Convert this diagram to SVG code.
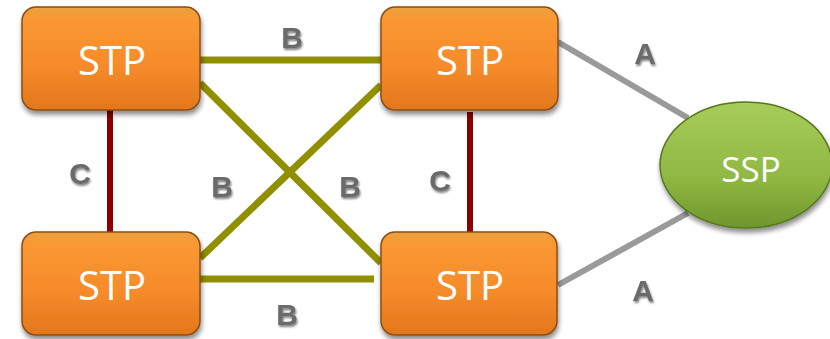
<svg xmlns="http://www.w3.org/2000/svg" width="830" height="339" viewBox="0 0 830 339">
<defs>
<linearGradient id="og" x1="0" y1="0" x2="0" y2="1">
<stop offset="0" stop-color="#e9a23f"/>
<stop offset="0.12" stop-color="#fa9832"/>
<stop offset="0.6" stop-color="#f58a2a"/>
<stop offset="1" stop-color="#e2771c"/>
</linearGradient>
<linearGradient id="gg" x1="0" y1="0" x2="0" y2="1">
<stop offset="0" stop-color="#a8cc5a"/>
<stop offset="0.6" stop-color="#8fb843"/>
<stop offset="1" stop-color="#6f962c"/>
</linearGradient>
<filter id="sh" x="-20%" y="-20%" width="140%" height="150%">
<feGaussianBlur in="SourceAlpha" stdDeviation="2.5"/>
<feOffset dx="1" dy="4" result="b"/>
<feComponentTransfer><feFuncA type="linear" slope="0.45"/></feComponentTransfer>
<feMerge><feMergeNode/><feMergeNode in="SourceGraphic"/></feMerge>
</filter>
<filter id="ts" x="-30%" y="-30%" width="160%" height="160%">
<feGaussianBlur in="SourceAlpha" stdDeviation="0.8"/>
<feOffset dx="1" dy="1.5"/>
<feComponentTransfer><feFuncA type="linear" slope="0.5"/></feComponentTransfer>
<feMerge><feMergeNode/><feMergeNode in="SourceGraphic"/></feMerge>
</filter>
</defs>
<style>
.stp{fill:url(#og);stroke:#8c4c14;stroke-width:1.5;filter:url(#sh)}
.ssp{fill:url(#gg);stroke:#56771f;stroke-width:1.5;filter:url(#sh)}
.nt{font-family:"Open Sans","Noto Sans",sans-serif;fill:#fff;text-anchor:middle}
.b{stroke:#8f8f00;stroke-width:7;fill:none}
.c{stroke:#8e0000;stroke-width:6;fill:none}
.a{stroke:#9a9a9a;stroke-width:6;fill:none}
.lb{font-family:"Liberation Sans",Arial,sans-serif;font-weight:bold;font-size:30px;fill:#6a6a6a;text-anchor:middle;filter:url(#ts)}
</style>
<g id="connectors">
<line class="b" x1="200" y1="60" x2="382" y2="60"/>
<line class="b" x1="200" y1="83" x2="381" y2="263"/>
<line class="b" x1="381" y1="85" x2="200" y2="258"/>
<line class="b" x1="194" y1="279" x2="374" y2="279"/>
<line class="c" x1="110" y1="110" x2="110" y2="232"/>
<line class="c" x1="470" y1="112" x2="470" y2="232"/>
<line class="a" x1="558" y1="42" x2="688" y2="118"/>
<line class="a" x1="558" y1="285" x2="688" y2="213"/>
<text class="lb" x="292" y="48">B</text>
<text class="lb" x="80" y="184">C</text>
<text class="lb" x="222" y="197">B</text>
<text class="lb" x="350" y="197">B</text>
<text class="lb" x="287" y="325">B</text>
<text class="lb" x="440" y="191">C</text>
<text class="lb" x="645" y="64">A</text>
<text class="lb" x="643" y="301">A</text>
</g>
<g id="stp1"><rect class="stp" x="22" y="7" width="178" height="103" rx="14"/><text class="nt" x="112" y="75" font-size="40">STP</text></g>
<g id="stp2"><rect class="stp" x="381" y="7" width="177" height="103" rx="14"/><text class="nt" x="470" y="75" font-size="40">STP</text></g>
<g id="stp3"><rect class="stp" x="22" y="232" width="178" height="103" rx="14"/><text class="nt" x="112" y="300" font-size="40">STP</text></g>
<g id="stp4"><rect class="stp" x="381" y="232" width="176" height="103" rx="14"/><text class="nt" x="470" y="300" font-size="40">STP</text></g>
<g id="ssp"><ellipse class="ssp" cx="746" cy="165" rx="86" ry="63"/><text class="nt" x="751" y="182" font-size="35">SSP</text></g>
</svg>
